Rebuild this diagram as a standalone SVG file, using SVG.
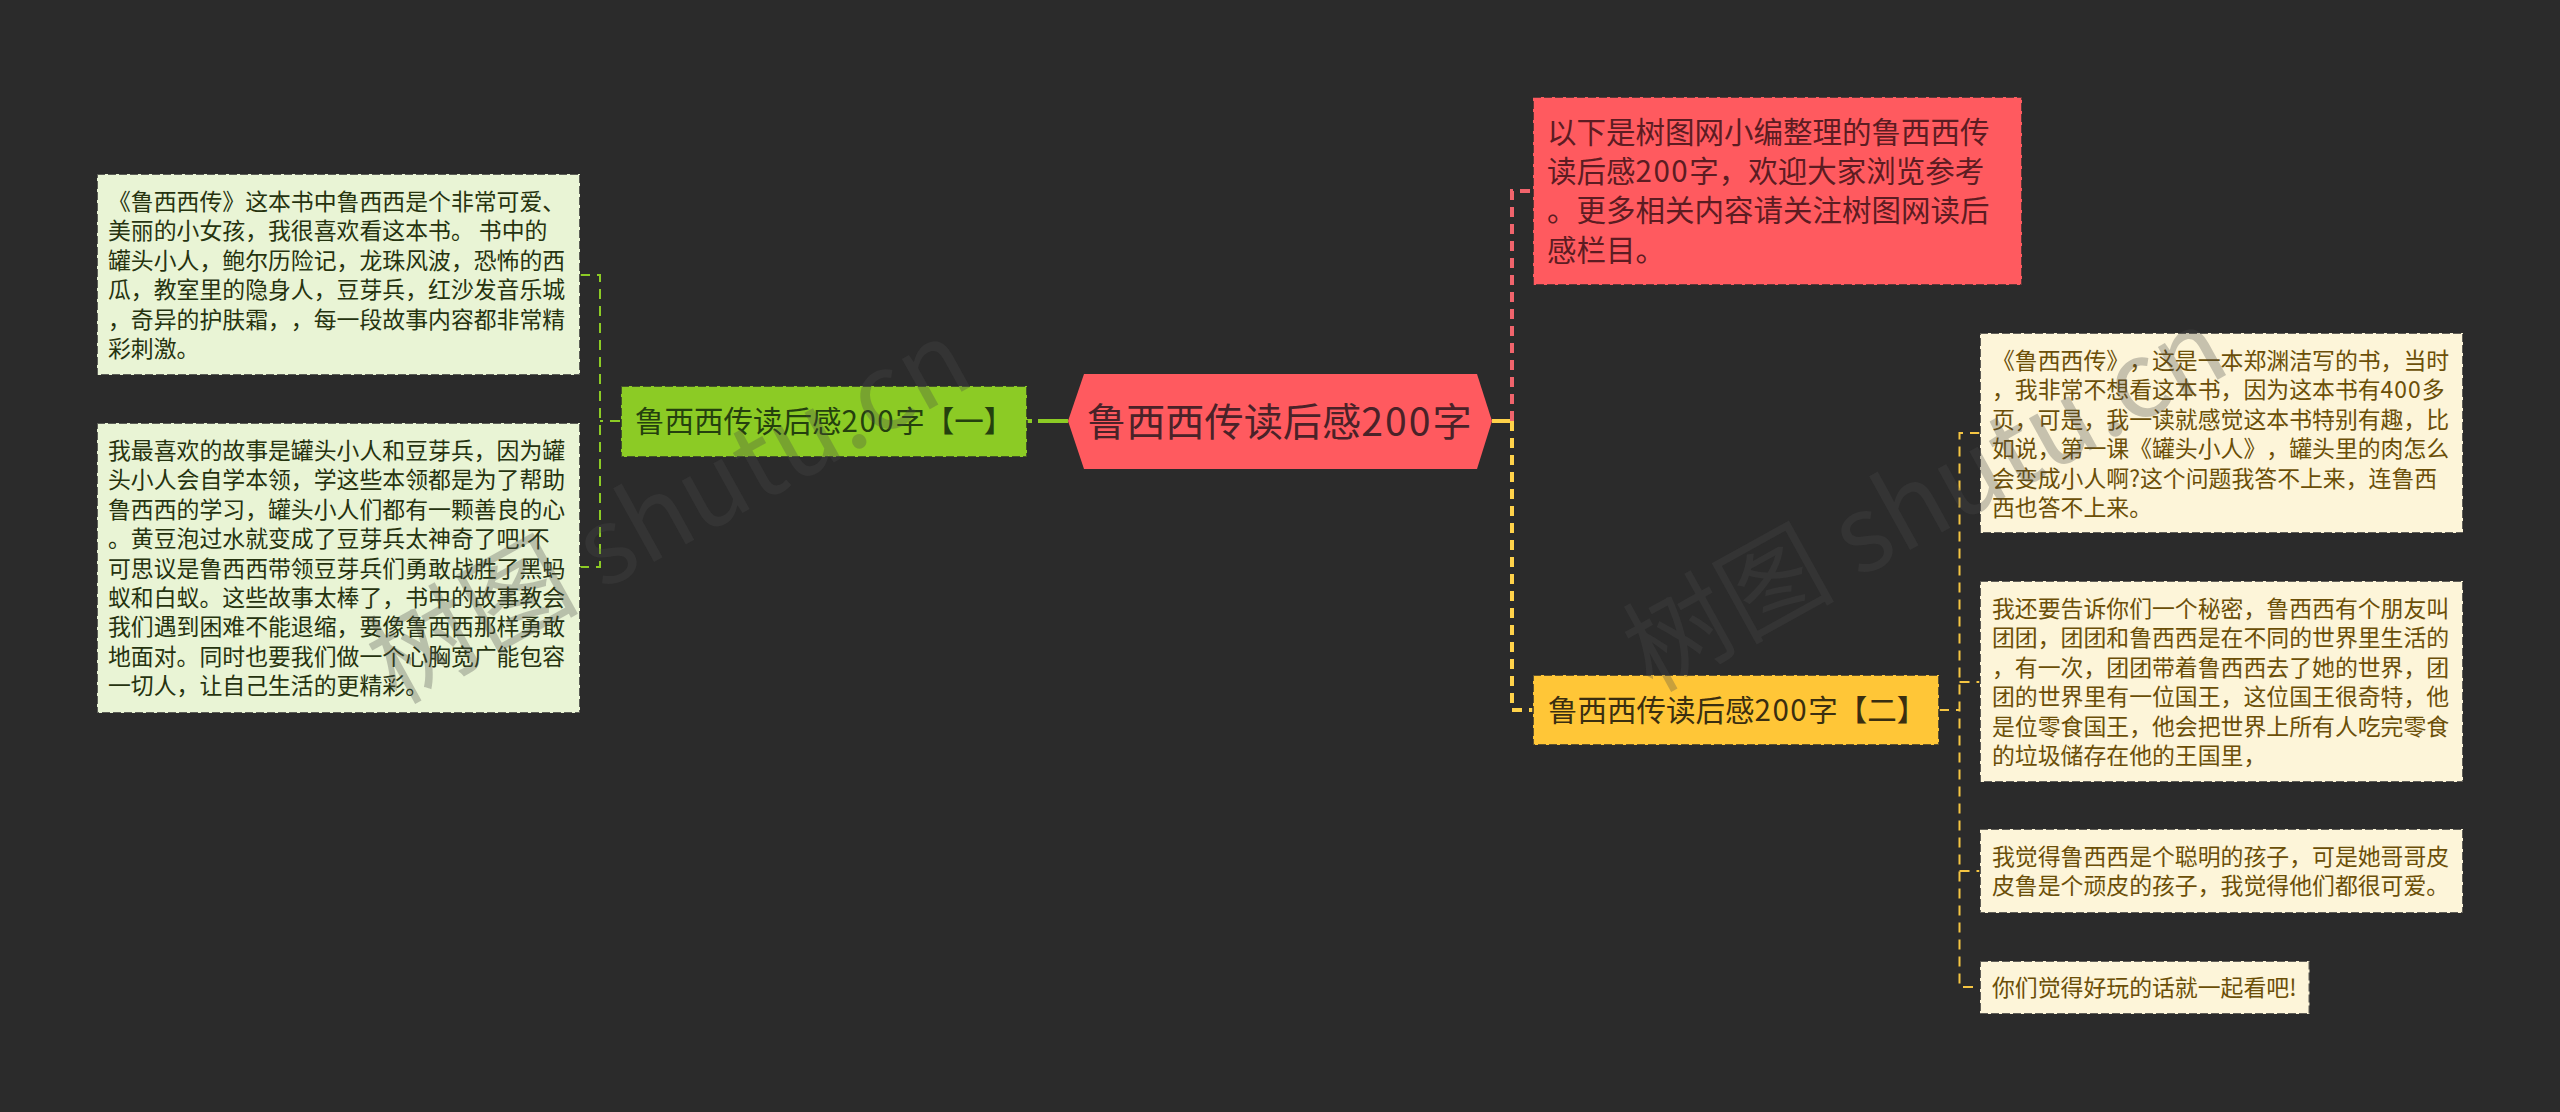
<svg xmlns="http://www.w3.org/2000/svg" width="2560" height="1112" viewBox="0 0 2560 1112">
<style>
text{font-family:"Noto Sans CJK SC","Liberation Sans",sans-serif;text-spacing-trim:space-all;white-space:pre}
.b{stroke:#2b2b2b;stroke-width:2;stroke-dasharray:8 3;stroke-opacity:.75}
.s{font-size:22.86px}
.m{font-size:29.5px}
.d1{letter-spacing:1.5px}
.d2{letter-spacing:2px}
.d0{letter-spacing:1px}
.pg{fill:#e9f4d5}.pgt{fill:#26330f}
.py{fill:#fdf5d9}.pyt{fill:#6b4f08}
.c{fill:none}
.wm{font-size:106px;fill:#4a4a4a;fill-opacity:.3;font-family:"Noto Sans CJK SC","Liberation Serif",serif}
</style>
<rect width="2560" height="1112" fill="#2b2b2b"/>
<g id="connectors" class="c">
<path d="M1068 421H1038M1032 421H1027" stroke="#8ccb25" stroke-width="4"/>
<path d="M580 275H600V567H580M620 421H600" stroke="#8ccb25" stroke-width="2" stroke-dasharray="10 7"/>
<path d="M1492 421H1512" stroke="#ffd24a" stroke-width="4"/>
<path d="M1512 421V191H1533" stroke="#f0646c" stroke-width="4" stroke-dasharray="10 7"/>
<path d="M1512 421V710H1533" stroke="#ffd24a" stroke-width="4" stroke-dasharray="10 7"/>
<path d="M1939 710H1959.5M1980 433H1959.5V987H1980M1959.5 682H1980M1959.5 871H1980" stroke="#f5c542" stroke-width="2" stroke-dasharray="10 7"/>
</g>
<g id="root">
<polygon points="1068,421 1084,374 1477,374 1492,421 1477,469 1084,469" fill="#ff5a5f"/>
<text x="1087" y="435.5" font-size="39.18" fill="#4a2228">鲁西西传读后感<tspan class="d2">200</tspan>字</text>
</g>
<g id="n-red">
<rect class="b" x="1533" y="97" width="489" height="188" fill="#ff5a5f"/>
<g class="m" fill="#5c1c22">
<text x="1547" y="143">以下是树图网小编整理的鲁西西传</text>
<text x="1547" y="182.2">读后感<tspan class="d1">200</tspan>字，欢迎大家浏览参考</text>
<text x="1547" y="221.4">。更多相关内容请关注树图网读后</text>
<text x="1547" y="260.6">感栏目。</text>
</g>
</g>
<g id="n-green">
<rect class="b" x="621" y="386" width="406" height="71" fill="#8ccb25"/>
<text class="m" x="635" y="432" fill="#24400e">鲁西西传读后感<tspan class="d1">200</tspan>字【一】</text>
</g>
<g id="n-yellow">
<rect class="b" x="1533" y="675" width="406" height="70" fill="#ffc637"/>
<text class="m" x="1548" y="720.5" fill="#3a2e10">鲁西西传读后感<tspan class="d1">200</tspan>字【二】</text>
</g>
<g id="g1">
<rect class="b pg" x="97" y="174" width="483" height="201"/>
<g class="s pgt">
<text x="108" y="210">《鲁西西传》这本书中鲁西西是个非常可爱、</text>
<text x="108" y="239.4">美丽的小女孩，我很喜欢看这本书。 书中的</text>
<text x="108" y="268.8">罐头小人，鲍尔历险记，龙珠风波，恐怖的西</text>
<text x="108" y="298.2">瓜，教室里的隐身人，豆芽兵，红沙发音乐城</text>
<text x="108" y="327.6">，奇异的护肤霜，，每一段故事内容都非常精</text>
<text x="108" y="357">彩刺激。</text>
</g>
</g>
<g id="g2">
<rect class="b pg" x="97" y="423" width="483" height="290"/>
<g class="s pgt">
<text x="108" y="459">我最喜欢的故事是罐头小人和豆芽兵，因为罐</text>
<text x="108" y="488.4">头小人会自学本领，学这些本领都是为了帮助</text>
<text x="108" y="517.8">鲁西西的学习，罐头小人们都有一颗善良的心</text>
<text x="108" y="547.2">。黄豆泡过水就变成了豆芽兵太神奇了吧!不</text>
<text x="108" y="576.6">可思议是鲁西西带领豆芽兵们勇敢战胜了黑蚂</text>
<text x="108" y="606">蚁和白蚁。这些故事太棒了，书中的故事教会</text>
<text x="108" y="635.4">我们遇到困难不能退缩，要像鲁西西那样勇敢</text>
<text x="108" y="664.8">地面对。同时也要我们做一个心胸宽广能包容</text>
<text x="108" y="694.2">一切人，让自己生活的更精彩。</text>
</g>
</g>
<g id="y1">
<rect class="b py" x="1980" y="333" width="483" height="200"/>
<g class="s pyt">
<text x="1992" y="369">《鲁西西传》，这是一本郑渊洁写的书，当时</text>
<text x="1992" y="398.4">，我非常不想看这本书，因为这本书有<tspan class="d0">400</tspan>多</text>
<text x="1992" y="427.8">页，可是，我一读就感觉这本书特别有趣，比</text>
<text x="1992" y="457.2">如说，第一课《罐头小人》，罐头里的肉怎么</text>
<text x="1992" y="486.6">会变成小人啊?这个问题我答不上来，连鲁西</text>
<text x="1992" y="516">西也答不上来。</text>
</g>
</g>
<g id="y2">
<rect class="b py" x="1980" y="581" width="483" height="201"/>
<g class="s pyt">
<text x="1992" y="617">我还要告诉你们一个秘密，鲁西西有个朋友叫</text>
<text x="1992" y="646.4">团团，团团和鲁西西是在不同的世界里生活的</text>
<text x="1992" y="675.8">，有一次，团团带着鲁西西去了她的世界，团</text>
<text x="1992" y="705.2">团的世界里有一位国王，这位国王很奇特，他</text>
<text x="1992" y="734.6">是位零食国王，他会把世界上所有人吃完零食</text>
<text x="1992" y="764">的垃圾储存在他的王国里，</text>
</g>
</g>
<g id="y3">
<rect class="b py" x="1980" y="829" width="483" height="84"/>
<g class="s pyt">
<text x="1992" y="865">我觉得鲁西西是个聪明的孩子，可是她哥哥皮</text>
<text x="1992" y="894.4">皮鲁是个顽皮的孩子，我觉得他们都很可爱。</text>
</g>
</g>
<g id="y4">
<rect class="b py" x="1980" y="961" width="329.5" height="53"/>
<text class="s pyt" x="1992" y="996">你们觉得好玩的话就一起看吧!</text>
</g>
<g id="watermarks">
<text class="wm" transform="translate(396 705) rotate(-29)">树图 shutu.cn</text>
<text class="wm" transform="translate(1652 693) rotate(-29)">树图 shutu.cn</text>
</g>
</svg>
